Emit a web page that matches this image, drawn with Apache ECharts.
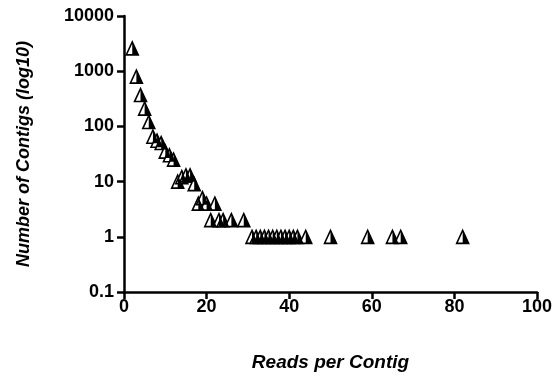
<!DOCTYPE html>
<html>
<head>
<meta charset="utf-8">
<script src="https://cdn.jsdelivr.net/npm/echarts@6/dist/echarts.min.js"></script>
<style>
  html, body { margin: 0; padding: 0; background: #fff; }
  #chart { width: 558px; height: 379px; }
</style>
</head>
<body>
<div id="chart"></div>
<script>
// reads per contig (x) and number of contigs (y)
const reads = [2, 3, 4, 5, 6, 7, 8, 9, 10, 11, 12,
  13, 14, 15, 16, 17,
  18, 19, 20, 22,
  21, 23, 24, 26, 29,
  31, 32, 33, 34, 35, 36, 37, 38, 39, 40, 41, 42, 44, 50, 59, 65, 67, 82];
const contigs = [2600, 800, 370, 210, 120, 65, 55, 50, 35, 30, 25,
  10, 12, 13, 13, 9,
  4, 5, 4, 4,
  2, 2, 2, 2, 2,
  1, 1, 1, 1, 1, 1, 1, 1, 1, 1, 1, 1, 1, 1, 1, 1, 1, 1];
const xTicks = [0, 20, 40, 60, 80, 100];
const yTicks = [0.1, 1, 10, 100, 1000, 10000];

const points = reads.map((r, i) => [r, contigs[i]]);
const font = "Arial, 'Liberation Sans', sans-serif";

const chart = echarts.init(document.getElementById("chart"));
chart.setOption({
  animation: false,
  grid: { left: 124, right: 21, top: 16, bottom: 87 },
  xAxis: {
    type: "value",
    min: xTicks[0],
    max: xTicks[xTicks.length - 1],
    interval: 20,
    name: "Reads per Contig",
    nameLocation: "middle",
    nameGap: 61,
    nameTextStyle: { fontFamily: font, fontSize: 19, fontWeight: "bold", fontStyle: "italic", color: "#000" },
    axisLine: { lineStyle: { color: "#000", width: 2.5 } },
    axisTick: { length: 7, lineStyle: { color: "#000", width: 2.5 } },
    axisLabel: { fontFamily: font, fontSize: 18, fontWeight: "bold", color: "#000", margin: 6 },
    splitLine: { show: false }
  },
  yAxis: {
    type: "log",
    logBase: 10,
    min: yTicks[0],
    max: yTicks[yTicks.length - 1],
    name: "Number of Contigs (log10)",
    nameLocation: "middle",
    nameGap: 91,
    nameTextStyle: { fontFamily: font, fontSize: 18, fontWeight: "bold", fontStyle: "italic", color: "#000" },
    axisLine: { show: true, lineStyle: { color: "#000", width: 2.5 } },
    axisTick: { show: true, length: 7, lineStyle: { color: "#000", width: 2.5 } },
    axisLabel: {
      fontFamily: font, fontSize: 18, fontWeight: "bold", color: "#000", margin: 10,
      formatter: v => (v < 1 ? String(Math.round(v * 10) / 10) : String(Math.round(v)))
    },
    splitLine: { show: false }
  },
  series: [
    {
      type: "scatter",
      data: points,
      symbol: "triangle",
      symbolSize: [12, 13],
      itemStyle: { color: "#fff", borderColor: "#000", borderWidth: 1.6, opacity: 1 }
    },
    {
      type: "scatter",
      data: points,
      symbol: "path://M0,0 L1,2 L0,2 Z",
      symbolSize: [6, 13],
      symbolOffset: [3, 0],
      itemStyle: { color: "#000", opacity: 1 }
    }
  ]
});
</script>
</body>
</html>
